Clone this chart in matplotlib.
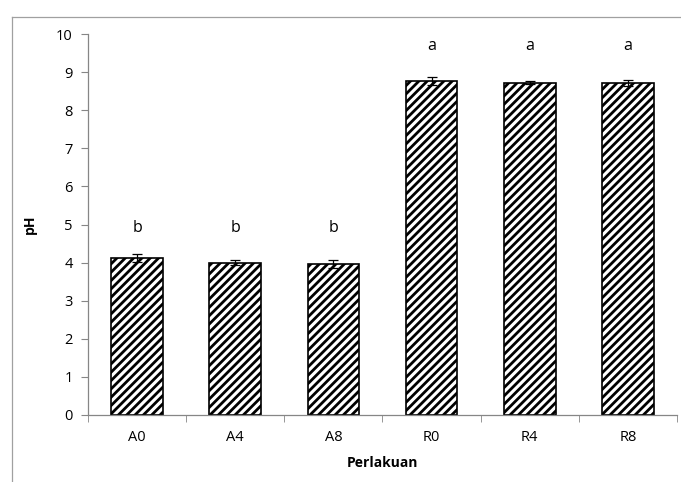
import matplotlib
matplotlib.use("Agg")
import matplotlib.pyplot as plt
import numpy as np
from matplotlib.lines import Line2D

categories = ["A0", "A4", "A8", "R0", "R4", "R8"]
ph_values = [4.12, 4.00, 3.97, 8.76, 8.72, 8.72]
ph_errors = [0.10, 0.06, 0.10, 0.10, 0.04, 0.08]
letters = ["b", "b", "b", "a", "a", "a"]
letter_heights = [4.9, 4.9, 4.9, 9.68, 9.68, 9.68]
y_ticks = list(range(0, 11))

plt.rcParams['font.family'] = ['Open Sans', 'DejaVu Sans']
plt.rcParams['hatch.linewidth'] = 2.0

fig = plt.figure(figsize=(6.81, 4.82), dpi=100)
fx = 11.5 / 681
fy = 1 - 16.5 / 482
fig.add_artist(Line2D([fx, 1.0], [fy, fy], transform=fig.transFigure, color="#a0a0a0", linewidth=0.9))
fig.add_artist(Line2D([fx, fx], [0.0, fy], transform=fig.transFigure, color="#a0a0a0", linewidth=0.9))
ax = fig.add_axes([88/681, 1 - 415/482, (677 - 88)/681, (415 - 34)/482])

x = np.arange(len(categories))
ax.bar(x, ph_values, width=0.525, color="white", edgecolor="black", hatch="////",
       linewidth=1.2, zorder=2)
ax.errorbar(x, ph_values, yerr=ph_errors, fmt="none", ecolor="black",
            elinewidth=0.9, capsize=3.5, capthick=0.9, zorder=3)
for xi, lab, h in zip(x, letters, letter_heights):
    ax.text(xi, h, lab, ha="center", va="center", fontsize=11.5)

ax.set_xlim(-0.5, len(categories) - 0.5)
ax.set_ylim(0, 10)
ax.set_yticks(y_ticks)
ax.set_xticks(x)
ax.set_xticklabels(categories)
ax.set_xticks(np.arange(-0.5, len(categories), 1.0), minor=True)
ax.tick_params(axis="x", which="major", length=0, pad=11, labelsize=10.5)
ax.tick_params(axis="x", which="minor", length=5, color="#868686", direction="out")
ax.tick_params(axis="y", length=5, color="#868686", direction="out", labelsize=10.5, pad=6)

for s in ["top", "right"]:
    ax.spines[s].set_visible(False)
for s in ["left", "bottom"]:
    ax.spines[s].set_color("#868686")
    ax.spines[s].set_linewidth(0.9)

ax.set_xlabel("Perlakuan", fontsize=10, fontweight="bold", labelpad=8)
ax.set_ylabel("pH", fontsize=10, fontweight="bold", labelpad=14)

fig.savefig("out.png", dpi=100)
